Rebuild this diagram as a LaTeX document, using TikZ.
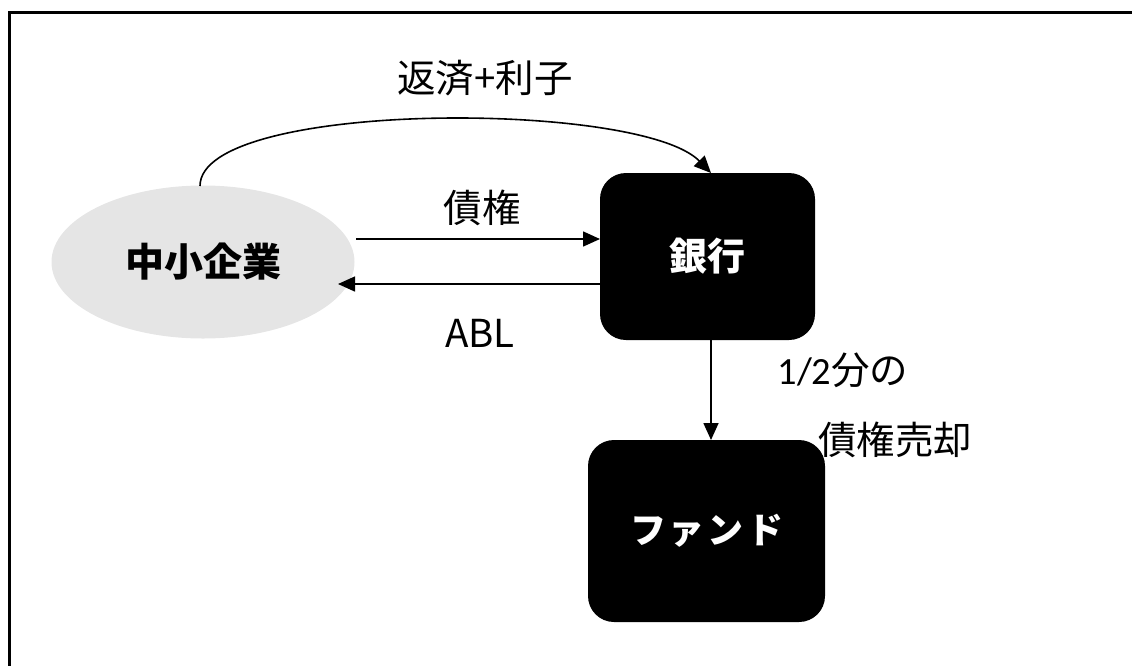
\documentclass[tikz,border=0pt]{standalone}
\usepackage{fontspec}
\setmainfont{Noto Sans CJK JP}
\newfontfamily\calib{Carlito}
\usetikzlibrary{arrows.meta,shapes.geometric}
\tikzset{
  conn/.style={line width=1.6pt,-{Triangle[length=17pt,width=15pt]}},
  lbl/.style={font=\fontsize{38.5}{42}\selectfont,inner sep=0pt},
  darkbox/.style={fill=black,rounded corners=26pt,inner sep=0pt,text=white},
}
\begin{document}
\begin{tikzpicture}[x=1pt,y=-1pt]
\useasboundingbox (0,0) rectangle (1132,665);
% frame (cut off at right and bottom)
\draw[line width=3.5pt] (9.5,670) -- (9.5,12.5) -- (1140,12.5);
% nodes
\node[ellipse,fill=black!10,minimum width=303pt,minimum height=153pt,inner sep=0pt,font=\fontsize{39}{42}\selectfont\bfseries] (sme) at (203,262) {中小企業};
\node[darkbox,minimum width=215pt,minimum height=167pt,font=\fontsize{38}{42}\selectfont\bfseries] (bank) at (707.5,256.5) {銀行};
\node[darkbox,minimum width=237pt,minimum height=182pt,font=\fontsize{36}{40}\selectfont\bfseries] (fund) at (706.5,531) {フ\hspace{3pt}ァ\hspace{3pt}ン\hspace{3pt}ド};
% anchor points
\coordinate (ctop) at (200,186);
\coordinate (btop) at (711,173);
\coordinate (bbot) at (711,340);
\coordinate (ftop) at (711,440);
\coordinate (a1s) at (356,239);
\coordinate (a1e) at (600,239);
\coordinate (a2s) at (600,284);
\coordinate (a2e) at (338,284);
% connectors
\draw[conn] (ctop) .. controls (200,100) and (640,100) .. (btop);
\draw[conn] (a1s) -- (a1e);
\draw[conn] (a2s) -- (a2e);
\draw[conn] (bbot) -- (ftop);
% labels
\node[lbl] (l1) at (485,78) {返済+利子};
\node[lbl] (l2) at (482,208) {債権};
\node[lbl] (l3) at (480,333) {ABL};
\node[lbl] (l4) at (843,370) {{\calib 1/2}分の};
\node[lbl] (l5) at (895,440) {債権売却};
\end{tikzpicture}
\end{document}
